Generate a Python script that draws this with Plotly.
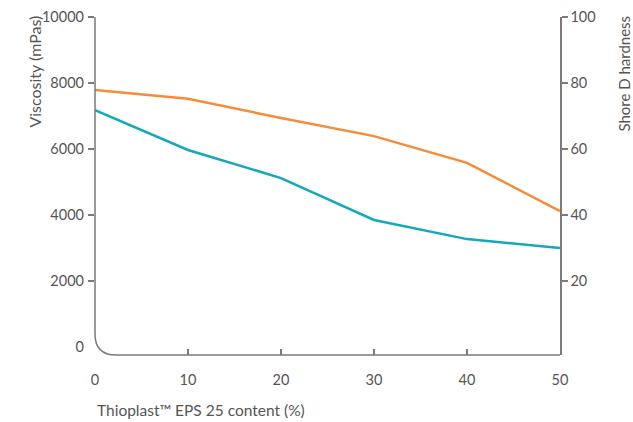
import plotly.graph_objects as go

content = [0, 10, 20, 30, 40, 50]
viscosity = [7180, 5970, 5120, 3850, 3270, 3000]
shore_d = [77.9, 75.2, 69.4, 63.9, 55.8, 41.2]

x_ticks = [0, 10, 20, 30, 40, 50]
x_inner_ticks = [10, 20, 30, 40]
y_left_ticks = [0, 2000, 4000, 6000, 8000, 10000]
y_left_labels = ["0", "2000", "4000", "6000", "8000", "10000"]
y_left_marks = [2000, 4000, 6000, 8000, 10000]
y_right_ticks = [20, 40, 60, 80, 100]

TEAL = "#14A9B8"
ORANGE = "#F68B38"
AXIS = "#7a7a7a"
TXT = "#555555"
FONT = "Lato"

fig = go.Figure()
fig.add_trace(go.Scatter(x=content, y=viscosity, mode="lines",
                         line=dict(color=TEAL, width=2.5), yaxis="y", showlegend=False,
                         hoverinfo="skip"))
fig.add_trace(go.Scatter(x=content, y=shore_d, mode="lines",
                         line=dict(color=ORANGE, width=2.5), yaxis="y2", showlegend=False,
                         hoverinfo="skip"))

fig.update_layout(
    width=633, height=422,
    margin=dict(l=95, r=73, t=17, b=67, autoexpand=False),
    paper_bgcolor="white", plot_bgcolor="white",
    font=dict(family=FONT, size=14, color=TXT),
    hovermode=False,
    xaxis=dict(range=[0, 50], tickvals=x_ticks, ticks="", showline=False,
               showgrid=False, zeroline=False, ticklabelstandoff=14, automargin=False,
               tickfont=dict(size=14.5, color=TXT)),
    xaxis2=dict(range=[0, 50], overlaying="x", anchor="y", side="bottom",
                tickvals=x_inner_ticks, ticks="inside", ticklen=6, tickwidth=1.5,
                tickcolor=AXIS, showticklabels=False, showline=False, automargin=False,
                showgrid=False, zeroline=False),
    yaxis=dict(range=[-242, 10000], tickvals=y_left_ticks, ticktext=y_left_labels,
               ticks="", showline=False, showgrid=False, zeroline=False, automargin=False,
               ticklabelstandoff=10, tickfont=dict(size=14.5, color=TXT)),
    yaxis3=dict(range=[-242, 10000], overlaying="y", anchor="x", side="left",
                tickvals=y_left_marks, ticks="outside", ticklen=6, tickwidth=1.5,
                tickcolor=AXIS, showticklabels=False, showline=False, automargin=False,
                showgrid=False, zeroline=False),
    yaxis2=dict(range=[-2.42, 100], overlaying="y", side="right", anchor="x",
                tickvals=y_right_ticks, ticks="outside", ticklen=6, tickwidth=1.5,
                tickcolor=AXIS, showline=True, linecolor=AXIS, linewidth=1.5,
                showgrid=False, zeroline=False, automargin=False,
                tickfont=dict(size=14.5, color=TXT)),
)

fig.add_trace(go.Scatter(x=[None], y=[None], xaxis="x2", yaxis="y3", showlegend=False))

h = 338.0
w = 465.0
r_y = 21 / h
r_x = 21 / w
path = (f"M 0 1 L 0 {r_y:.4f} Q 0 0 {r_x:.4f} 0 L 1 0")
fig.add_shape(type="path", path=path, xref="paper", yref="paper",
              line=dict(color=AXIS, width=1.5))

fig.add_annotation(text="Viscosity (mPas)", textangle=-90, xref="paper", yref="paper",
                   x=-60/w, y=1.01, xanchor="center", yanchor="top", showarrow=False,
                   font=dict(size=16, color=TXT))
fig.add_annotation(text="Shore D hardness", textangle=-90, xref="paper", yref="paper",
                   x=1 + 64/w, y=1.01, xanchor="center", yanchor="top", showarrow=False,
                   font=dict(size=15, color=TXT))
fig.add_annotation(text="Thioplast™ EPS 25 content (%)", xref="paper", yref="paper",
                   x=0, y=-55/h, xanchor="left", yanchor="middle", showarrow=False,
                   font=dict(size=15.5, color=TXT))

fig.write_html("out.html", config={"displayModeBar": False, "staticPlot": True},
               post_script="document.body.style.margin='0';")
